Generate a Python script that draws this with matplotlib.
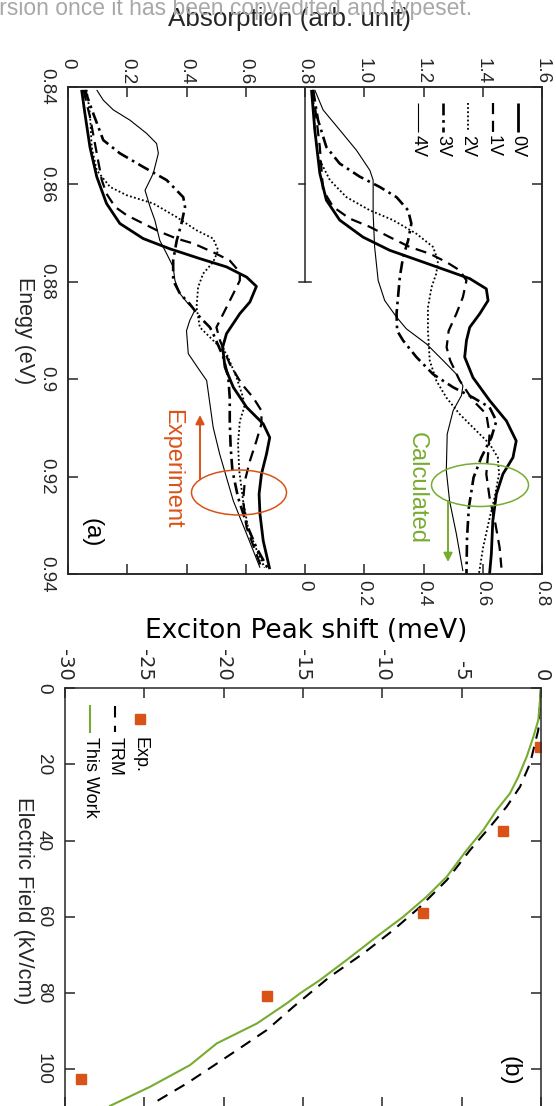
import matplotlib
matplotlib.use("Agg")
import matplotlib.pyplot as plt
from matplotlib.patches import Ellipse
from matplotlib.lines import Line2D

W, H = 556, 1106
SANS = "Liberation Sans"
DEJAVU = "DejaVu Sans"
AXC = "#262626"
ORANGE = "#D95319"
GREEN = "#77AC30"

# ---------------- panel (a): absorption vs energy ----------------
# experiment (left absorption scale, 0..1.6)
exp_e_0v = [0.8407, 0.8455, 0.8524, 0.8585, 0.8640, 0.8681, 0.8712, 0.8733, 0.8753, 0.8770, 0.8791, 0.8810,
            0.8842, 0.8866, 0.8907, 0.8935, 0.8976, 0.9017, 0.9058, 0.9092, 0.9120, 0.9154, 0.9195, 0.9236,
            0.9277, 0.9332, 0.9390]
exp_a_0v = [0.046, 0.057, 0.074, 0.097, 0.130, 0.175, 0.254, 0.344, 0.445, 0.535, 0.603, 0.636,
            0.614, 0.580, 0.535, 0.522, 0.530, 0.558, 0.603, 0.659, 0.681, 0.670, 0.653, 0.645,
            0.648, 0.659, 0.681]

exp_e_1v = [0.8407, 0.8462, 0.8537, 0.8592, 0.8620, 0.8647, 0.8664, 0.8681, 0.8698, 0.8712, 0.8722, 0.8740,
            0.8757, 0.8781, 0.8798, 0.8825, 0.8859, 0.8894, 0.8921, 0.8969, 0.9010, 0.9038, 0.9065, 0.9092,
            0.9127, 0.9168, 0.9209, 0.9250, 0.9305, 0.9359, 0.9387]
exp_a_1v = [0.052, 0.074, 0.097, 0.114, 0.130, 0.159, 0.198, 0.254, 0.310, 0.367, 0.423, 0.490,
            0.546, 0.580, 0.580, 0.558, 0.530, 0.501, 0.513, 0.546, 0.586, 0.625, 0.653, 0.653,
            0.636, 0.614, 0.597, 0.591, 0.603, 0.636, 0.653]

exp_e_2v = [0.8407, 0.8455, 0.8524, 0.8572, 0.8606, 0.8623, 0.8640, 0.8668, 0.8695, 0.8712, 0.8736, 0.8760,
            0.8784, 0.8812, 0.8853, 0.8894, 0.8907, 0.8948, 0.8997, 0.9038, 0.9058, 0.9086, 0.9133, 0.9188,
            0.9250, 0.9305, 0.9359, 0.9387]
exp_a_2v = [0.063, 0.074, 0.080, 0.097, 0.142, 0.198, 0.288, 0.367, 0.434, 0.490, 0.507, 0.490,
            0.456, 0.439, 0.434, 0.445, 0.467, 0.535, 0.569, 0.591, 0.595, 0.580, 0.574, 0.578,
            0.591, 0.608, 0.642, 0.664]

exp_e_3v = [0.8407, 0.8455, 0.8510, 0.8537, 0.8565, 0.8592, 0.8627, 0.8647, 0.8681, 0.8716, 0.8757, 0.8798,
            0.8825, 0.8846, 0.8873, 0.8894, 0.8907, 0.8955, 0.8997, 0.9038, 0.9086, 0.9140, 0.9188, 0.9243,
            0.9298, 0.9346, 0.9390]
exp_a_3v = [0.057, 0.085, 0.119, 0.175, 0.254, 0.333, 0.389, 0.395, 0.383, 0.367, 0.355, 0.355,
            0.378, 0.411, 0.445, 0.479, 0.490, 0.524, 0.541, 0.546, 0.546, 0.549, 0.555, 0.574,
            0.603, 0.636, 0.676]

exp_e_4v = [0.8407, 0.8428, 0.8448, 0.8469, 0.8496, 0.8517, 0.8537, 0.8578, 0.8613, 0.8647, 0.8674, 0.8716,
            0.8743, 0.8770, 0.8798, 0.8825, 0.8846, 0.8859, 0.8880, 0.8901, 0.8948, 0.8983, 0.9003, 0.9051,
            0.9099, 0.9154, 0.9202, 0.9250, 0.9318, 0.9387]
exp_a_4v = [0.097, 0.119, 0.153, 0.209, 0.265, 0.299, 0.305, 0.288, 0.260, 0.277, 0.293, 0.310,
            0.333, 0.355, 0.361, 0.378, 0.406, 0.428, 0.411, 0.400, 0.406, 0.445, 0.468, 0.479,
            0.490, 0.512, 0.535, 0.558, 0.603, 0.648]

# calculation (right absorption scale, 0..0.8)
calc_e_0v = [0.8407, 0.8489, 0.8578, 0.8633, 0.8674, 0.8709, 0.8736, 0.8760, 0.8777, 0.8794, 0.8815, 0.8839,
             0.8866, 0.8894, 0.8921, 0.8955, 0.8997, 0.9044, 0.9086, 0.9127, 0.9161, 0.9195, 0.9236, 0.9291,
             0.9359, 0.9400]
calc_a_0v = [0.022, 0.033, 0.050, 0.072, 0.117, 0.196, 0.286, 0.398, 0.477, 0.556, 0.612, 0.618,
             0.590, 0.556, 0.545, 0.539, 0.567, 0.623, 0.680, 0.713, 0.702, 0.668, 0.646, 0.634,
             0.629, 0.623]

calc_e_1v = [0.8407, 0.8524, 0.8613, 0.8647, 0.8671, 0.8688, 0.8709, 0.8729, 0.8743, 0.8760, 0.8777, 0.8798,
             0.8832, 0.8866, 0.8901, 0.8935, 0.8962, 0.9003, 0.9044, 0.9072, 0.9113, 0.9154, 0.9195, 0.9243,
             0.9298, 0.9346, 0.9387]
calc_a_1v = [0.027, 0.050, 0.061, 0.095, 0.151, 0.219, 0.286, 0.353, 0.421, 0.477, 0.522, 0.545,
             0.533, 0.511, 0.485, 0.478, 0.490, 0.522, 0.567, 0.612, 0.623, 0.618, 0.612, 0.623,
             0.643, 0.657, 0.663]

calc_e_2v = [0.8407, 0.8489, 0.8544, 0.8592, 0.8627, 0.8654, 0.8674, 0.8702, 0.8729, 0.8757, 0.8784, 0.8812,
             0.8853, 0.8901, 0.8962, 0.9003, 0.9038, 0.9072, 0.9106, 0.9133, 0.9161, 0.9195, 0.9243, 0.9291,
             0.9346, 0.9400]
calc_a_2v = [0.027, 0.033, 0.044, 0.084, 0.140, 0.219, 0.297, 0.376, 0.432, 0.449, 0.443, 0.427,
             0.415, 0.415, 0.421, 0.443, 0.477, 0.522, 0.578, 0.623, 0.651, 0.655, 0.640, 0.621,
             0.601, 0.587]

calc_e_3v = [0.8407, 0.8469, 0.8524, 0.8558, 0.8585, 0.8606, 0.8627, 0.8654, 0.8681, 0.8716, 0.8750, 0.8791,
             0.8832, 0.8866, 0.8901, 0.8921, 0.8955, 0.8990, 0.9017, 0.9038, 0.9058, 0.9086, 0.9120, 0.9161,
             0.9202, 0.9264, 0.9325, 0.9400]
calc_a_3v = [0.027, 0.044, 0.072, 0.117, 0.185, 0.252, 0.309, 0.348, 0.359, 0.348, 0.331, 0.320,
             0.314, 0.309, 0.311, 0.331, 0.376, 0.432, 0.500, 0.567, 0.623, 0.646, 0.629, 0.595,
             0.569, 0.553, 0.547, 0.545]

calc_e_4v = [0.8407, 0.8448, 0.8489, 0.8531, 0.8572, 0.8592, 0.8661, 0.8729, 0.8798, 0.8839, 0.8873, 0.8897,
             0.8928, 0.8962, 0.8990, 0.9014, 0.9034, 0.9065, 0.9113, 0.9188, 0.9250, 0.9318, 0.9394]
calc_a_4v = [0.033, 0.061, 0.117, 0.174, 0.219, 0.230, 0.230, 0.235, 0.247, 0.269, 0.309, 0.342,
             0.410, 0.466, 0.511, 0.533, 0.528, 0.500, 0.480, 0.477, 0.488, 0.511, 0.533]

bias_labels = ["0V", "1V", "2V", "3V", "4V"]
energy_ticks = [0.84, 0.86, 0.88, 0.90, 0.92, 0.94]
energy_ticklabels = ["0.84", "0.86", "0.88", "0.9", "0.92", "0.94"]
abs_ticks = [0, 0.2, 0.4, 0.6, 0.8, 1.0, 1.2, 1.4, 1.6]
abs_ticklabels = ["0", "0.2", "0.4", "0.6", "0.8", "1.0", "1.2", "1.4", "1.6"]
calc_ticks = [-0.8, -0.6, -0.4, -0.2, 0, 0.2, 0.4, 0.6, 0.8]
calc_ticklabels = ["", "", "", "", "0", "0.2", "0.4", "0.6", "0.8"]

# ---------------- panel (b): peak shift vs field ----------------
exp_field = [15.4, 37.4, 59.1, 80.8, 102.6]
exp_shift = [-0.06, -2.41, -7.41, -17.24, -28.98]

trm_field = [0, 11.0, 19.8, 25.9, 31.1, 36.4, 42.5, 50.4, 57.4, 63.5, 69.6, 75.7, 83.6, 89.7, 95.0,
             98.5, 103.7, 108.9]
trm_shift = [0, -0.17, -0.69, -1.32, -2.16, -3.21, -4.47, -5.94, -7.62, -9.31, -11.19, -13.30, -15.60,
             -17.28, -19.17, -20.43, -22.32, -24.43]

work_field = [0, 3.1, 8.4, 12.8, 18.0, 23.3, 27.6, 32.0, 37.2, 42.5, 49.5, 54.7, 60.0, 65.2, 71.3, 76.6,
              80.1, 82.7, 88.0, 93.2, 98.9, 104.6, 109.6]
work_shift = [0, -0.06, -0.17, -0.48, -0.90, -1.43, -1.95, -2.79, -3.63, -4.68, -5.94, -7.20, -8.68,
              -10.35, -12.24, -13.93, -15.19, -16.02, -17.91, -20.43, -22.12, -24.64, -27.16]

field_ticks = [0, 20, 40, 60, 80, 100]
field_ticklabels = ["0", "20", "40", "60", "80", "100"]
shift_ticks = [-30, -25, -20, -15, -10, -5, 0]
shift_ticklabels = ["-30", "-25", "-20", "-15", "-10", "-5", "0"]

styles = [dict(ls="-", lw=2.0),
          dict(ls=(0, (5, 3)), lw=1.6),
          dict(ls=(0, (1, 1.3)), lw=1.3),
          dict(ls=(0, (4.5, 1.8, 1, 1.8)), lw=1.9),
          dict(ls="-", lw=0.8)]


def fx(x):
    return x / W


def fy(y):
    return 1 - y / H


def fpix(x, y):
    return (x, H - y)


fig = plt.figure(figsize=(W / 100, H / 100), dpi=100)

# the page is turned a quarter: energy runs down, absorption runs right
ax = fig.add_axes([fx(68), fy(574), (542 - 68) / W, (574 - 86.5) / H])
axc = ax.twiny()

ax.set_xlim(0, 1.6)
ax.set_ylim(0.94, 0.84)
axc.set_xlim(-0.8, 0.8)

exp_sets = [(exp_e_0v, exp_a_0v), (exp_e_1v, exp_a_1v), (exp_e_2v, exp_a_2v),
            (exp_e_3v, exp_a_3v), (exp_e_4v, exp_a_4v)]
calc_sets = [(calc_e_0v, calc_a_0v), (calc_e_1v, calc_a_1v), (calc_e_2v, calc_a_2v),
             (calc_e_3v, calc_a_3v), (calc_e_4v, calc_a_4v)]
for (e, a), st in zip(exp_sets, styles):
    ax.plot(a, e, color="black", solid_capstyle="butt", **st)
for (e, a), st in zip(calc_sets, styles):
    axc.plot(a, e, color="black", solid_capstyle="butt", **st)

# short baseline between the two sets
ax.plot([0.8, 0.8], [0.84, 0.88], color=AXC, lw=1.1)
ax.plot([0.78, 0.82], [0.88, 0.88], color=AXC, lw=1.1)
ax.plot([0.78, 0.8], [0.86, 0.86], color=AXC, lw=1.1)

for a in (ax, axc):
    for sp in a.spines.values():
        sp.set_color(AXC)
        sp.set_linewidth(1.1)

ax.xaxis.set_ticks_position("top")
ax.set_xticks(abs_ticks, abs_ticklabels, rotation=-90, va="top", ha="center",
              fontsize=13.5, family=SANS, color=AXC)
ax.tick_params(axis="x", direction="in", length=7, width=1.1, color=AXC, pad=20.5,
               top=True, bottom=False, labeltop=True, labelbottom=False)
ax.set_yticks(energy_ticks, energy_ticklabels, rotation=-90, va="center", ha="right",
              fontsize=13.5, family=SANS, color=AXC)
ax.tick_params(axis="y", direction="in", length=7, width=1.1, color=AXC, pad=9.0,
               left=True, right=True)

axc.xaxis.set_ticks_position("bottom")
axc.set_xticks(calc_ticks, calc_ticklabels, rotation=-90, va="top", ha="center",
               fontsize=13.5, family=SANS, color=AXC)
axc.tick_params(axis="x", direction="in", length=7, width=1.1, color=AXC, pad=4.3,
                bottom=True, top=False, labelbottom=True, labeltop=False)

# legend, drawn turned like the rest
for i, (lab, st) in enumerate(zip(bias_labels, styles)):
    x = 517.7 - 25.0 * i
    fig.add_artist(Line2D([fx(x), fx(x)], [fy(103), fy(132)], transform=fig.transFigure,
                          color="black", solid_capstyle="butt", **st))
    fig.text(fx(x), fy(135), lab, rotation=-90, ha="center", va="top",
             fontsize=13, family=SANS, color="black")

fig.add_artist(Ellipse((fx(239), fy(492.5)), 95 / W, 45 / H, transform=fig.transFigure,
                       fill=False, ec=ORANGE, lw=1.1))
ax.annotate("", xy=fpix(200, 415), xytext=fpix(200, 479), xycoords="figure pixels",
            textcoords="figure pixels",
            arrowprops=dict(arrowstyle="-|>", color=ORANGE, lw=1.4, mutation_scale=13,
                            shrinkA=0, shrinkB=0))
fig.text(fx(172), fy(469), "Experiment", rotation=-90, ha="center", va="center",
         fontsize=17, family=SANS, color=ORANGE)

fig.add_artist(Ellipse((fx(480), fy(485)), 97 / W, 43 / H, transform=fig.transFigure,
                       fill=False, ec=GREEN, lw=1.1))
ax.annotate("", xy=fpix(448, 562), xytext=fpix(448, 501), xycoords="figure pixels",
            textcoords="figure pixels",
            arrowprops=dict(arrowstyle="-|>", color=GREEN, lw=1.4, mutation_scale=13,
                            shrinkA=0, shrinkB=0))
fig.text(fx(417), fy(488), "Calculated", rotation=-90, ha="center", va="center",
         fontsize=17, family=SANS, color=GREEN)

fig.text(fx(92), fy(533), "(a)", rotation=-90, ha="center", va="center",
         fontsize=17.5, family=SANS, color="black")
fig.text(fx(24), fy(331), "Enegy (eV)", rotation=-90, ha="center", va="center",
         fontsize=15.5, family=SANS, color=AXC)
fig.text(fx(290), fy(19), "Absorption (arb. unit)", ha="center", va="center",
         fontsize=18.7, family=SANS, color=AXC)

# ---------------- panel (b) ----------------
axb = fig.add_axes([fx(65), fy(1107.4), (541 - 65) / W, (1107.4 - 688) / H])
axb.set_xlim(-30, 0)
axb.set_ylim(110, 0)

axb.plot(trm_shift, trm_field, color="black", lw=1.5, ls=(0, (5.5, 4)))
axb.plot(work_shift, work_field, color=GREEN, lw=1.5)
axb.plot(exp_shift, exp_field, ls="none", marker="s", ms=7.0, mfc=ORANGE, mec=ORANGE)

for sp in axb.spines.values():
    sp.set_color(AXC)
    sp.set_linewidth(1.1)

axb.xaxis.set_ticks_position("top")
axb.set_xticks(shift_ticks, shift_ticklabels, rotation=-90, va="bottom", ha="center",
               fontsize=14, family=DEJAVU, color=AXC)
axb.tick_params(axis="x", direction="in", length=7, width=1.1, color=AXC, pad=5,
                top=True, bottom=True, labeltop=True, labelbottom=False)
axb.set_yticks(field_ticks, field_ticklabels, rotation=-90, va="center", ha="right",
               fontsize=13.7, family=SANS, color=AXC)
axb.tick_params(axis="y", direction="in", length=7, width=1.1, color=AXC, pad=9.4,
                left=True, right=True)

# legend for (b)
fig.add_artist(Line2D([fx(90), fx(90)], [fy(706), fy(732)], transform=fig.transFigure,
                      color=GREEN, lw=1.5))
fig.add_artist(Line2D([fx(115), fx(115)], [fy(706), fy(732)], transform=fig.transFigure,
                      color="black", lw=1.5, ls=(0, (5.5, 4))))
fig.add_artist(Line2D([fx(140)], [fy(719)], transform=fig.transFigure, ls="none",
                      marker="s", ms=7.0, mfc=ORANGE, mec=ORANGE))
for x, lab in [(140, "Exp."), (115, "TRM"), (90, "This Work")]:
    fig.text(fx(x), fy(737), lab, rotation=-90, ha="center", va="top",
             fontsize=13, family=SANS, color="black")

fig.text(fx(510), fy(1071), "(b)", rotation=-90, ha="center", va="center",
         fontsize=17.5, family=SANS, color="black")
fig.text(fx(23), fy(901), "Electric Field (kV/cm)", rotation=-90, ha="center", va="center",
         fontsize=15.8, family=SANS, color=AXC)
fig.text(fx(306), fy(631), "Exciton Peak shift (meV)", ha="center", va="center",
         fontsize=19, family=DEJAVU, color="black")

# page header running across the top
fig.text(fx(472), fy(9), "version once it has been copyedited and typeset.", ha="right",
         va="center", fontsize=16.5, family=SANS, color="#a8a8a8")

fig.savefig("out.png", dpi=100)
